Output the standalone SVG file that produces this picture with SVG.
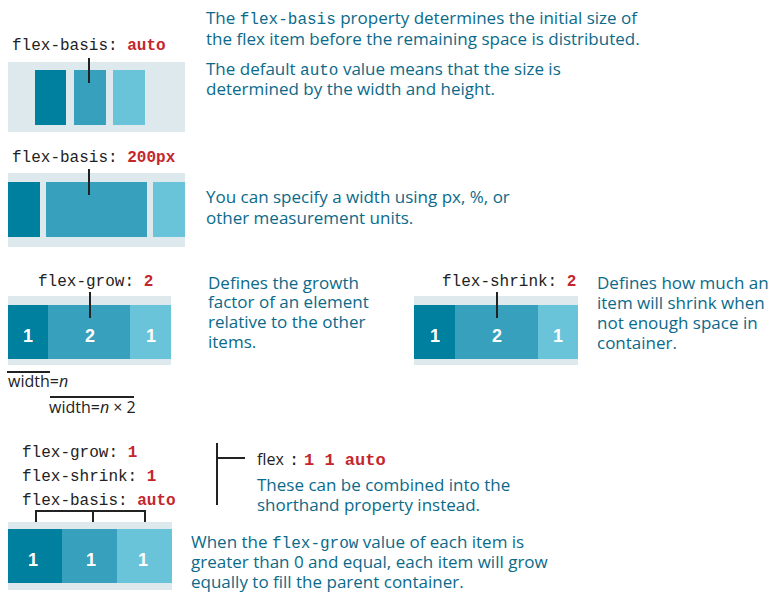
<svg xmlns="http://www.w3.org/2000/svg" width="775" height="593" viewBox="0 0 775 593">
<style>
.bg{fill:#ffffff}
.track{fill:#dde9ec}
.c1{fill:#00809f}
.c2{fill:#37a0bc}
.c3{fill:#69c4da}
.code{font-family:"Liberation Mono","DejaVu Sans Mono",monospace;font-size:16px;fill:#222}
.val{font-weight:bold;fill:#c4262e}
.desc{font-family:"Open Sans","Liberation Sans",sans-serif;font-size:17px;fill:#0b6a8a}
.mono{font-family:"Liberation Mono","DejaVu Sans Mono",monospace;font-size:16px}
.num{font-family:"Liberation Sans",Arial,sans-serif;font-size:18px;font-weight:bold;fill:#fff;text-anchor:middle}
.note{font-family:"Open Sans","Liberation Sans",sans-serif;font-size:16px;fill:#222}
.ln{stroke:#222;stroke-width:2;fill:none}
</style>
<rect class="bg" x="0" y="0" width="775" height="593"/>

<g id="basis-auto">
<text class="code" x="12" y="50">flex-basis: <tspan class="val">auto</tspan></text>
<rect class="track" x="8" y="62" width="177" height="70"/>
<rect class="c1" x="35" y="70" width="31" height="55"/>
<rect class="c2" x="74" y="70" width="32" height="55"/>
<rect class="c3" x="113" y="70" width="32" height="55"/>
</g>

<g id="basis-text">
<text class="desc" x="206" y="24">The <tspan class="mono">flex-basis</tspan> property determines the initial size of</text>
<text class="desc" x="206" y="45">the flex item before the remaining space is distributed.</text>
<text class="desc" x="206" y="75">The default <tspan class="mono">auto</tspan> value means that the size is</text>
<text class="desc" x="206" y="95">determined by the width and height.</text>
</g>

<g id="basis-200">
<text class="code" x="12" y="162">flex-basis: <tspan class="val">200px</tspan></text>
<rect class="track" x="8" y="173" width="177" height="74"/>
<rect class="c1" x="8" y="182" width="32" height="55"/>
<rect class="c2" x="46" y="182" width="101" height="55"/>
<rect class="c3" x="153" y="182" width="32" height="55"/>
</g>

<g id="basis-200-text">
<text class="desc" x="206" y="203">You can specify a width using px, %, or</text>
<text class="desc" x="206" y="224">other measurement units.</text>
</g>

<g id="grow">
<text class="code" x="38" y="286">flex-grow: <tspan class="val">2</tspan></text>
<rect class="track" x="8" y="296" width="163" height="69"/>
<rect class="c1" x="8" y="305" width="40" height="54"/>
<rect class="c2" x="48" y="305" width="82" height="54"/>
<rect class="c3" x="130" y="305" width="41" height="54"/>
<text class="num" x="28" y="342">1</text>
<text class="num" x="90" y="342">2</text>
<text class="num" x="151" y="342">1</text>
<line class="ln" x1="7" y1="372" x2="50" y2="372" stroke-width="1.5"/>
<text class="note" x="8" y="387">width=<tspan font-style="italic">n</tspan></text>
<line class="ln" x1="50" y1="397" x2="134" y2="397" stroke-width="1.5"/>
<text class="note" x="49" y="413">width=<tspan font-style="italic">n</tspan> × 2</text>
</g>

<g id="grow-text">
<text class="desc" x="208" y="289">Defines the growth</text>
<text class="desc" x="208" y="308">factor of an element</text>
<text class="desc" x="208" y="328">relative to the other</text>
<text class="desc" x="208" y="348">items.</text>
</g>

<g id="shrink">
<text class="code" x="442" y="286">flex-shrink: <tspan class="val">2</tspan></text>
<rect class="track" x="414" y="296" width="164" height="69"/>
<rect class="c1" x="414" y="305" width="41" height="54"/>
<rect class="c2" x="455" y="305" width="83" height="54"/>
<rect class="c3" x="538" y="305" width="40" height="54"/>
<text class="num" x="435" y="342">1</text>
<text class="num" x="497" y="342">2</text>
<text class="num" x="558" y="342">1</text>
</g>

<g id="shrink-text">
<text class="desc" x="597" y="289">Defines how much an</text>
<text class="desc" x="597" y="309">item will shrink when</text>
<text class="desc" x="597" y="329">not enough space in</text>
<text class="desc" x="597" y="349">container.</text>
</g>

<g id="combined">
<text class="code" x="22" y="457">flex-grow: <tspan class="val">1</tspan></text>
<text class="code" x="22" y="481">flex-shrink: <tspan class="val">1</tspan></text>
<text class="code" x="22" y="505">flex-basis: <tspan class="val">auto</tspan></text>
<rect class="track" x="8" y="522" width="164" height="68"/>
<rect class="c1" x="8" y="529" width="54" height="54"/>
<rect class="c2" x="62" y="529" width="55" height="54"/>
<rect class="c3" x="117" y="529" width="55" height="54"/>
<text class="num" x="33" y="566">1</text>
<text class="num" x="91" y="566">1</text>
<text class="num" x="143" y="566">1</text>
</g>

<g id="shorthand">
<text x="257" y="465"><tspan font-family="'Open Sans','Liberation Sans',sans-serif" font-size="16" fill="#222">flex</tspan><tspan font-family="'Liberation Mono',monospace" x="289" font-size="17" fill="#222">:</tspan><tspan font-family="'Liberation Mono',monospace" x="304" font-size="17" font-weight="bold" fill="#c4262e">1 1 auto</tspan></text>
<text class="desc" x="257" y="491">These can be combined into the</text>
<text class="desc" x="257" y="511">shorthand property instead.</text>
</g>

<g id="combined-text">
<text class="desc" x="191" y="548">When the <tspan class="mono">flex-grow</tspan> value of each item is</text>
<text class="desc" x="191" y="568">greater than 0 and equal, each item will grow</text>
<text class="desc" x="191" y="588">equally to fill the parent container.</text>
</g>

<g id="connectors">
<line class="ln" x1="89" y1="58" x2="89" y2="83"/>
<line class="ln" x1="89" y1="169" x2="89" y2="195"/>
<line class="ln" x1="90" y1="292" x2="90" y2="318"/>
<line class="ln" x1="497" y1="292" x2="497" y2="318"/>
<polyline class="ln" points="36,522 36,511 145,511 145,522" stroke-width="1.5"/>
<line class="ln" x1="93" y1="511" x2="93" y2="522" stroke-width="1.5"/>
<line class="ln" x1="217" y1="443" x2="217" y2="505" stroke-width="1.5"/>
<line class="ln" x1="217" y1="458" x2="245" y2="458" stroke-width="1.5"/>
</g>
</svg>
